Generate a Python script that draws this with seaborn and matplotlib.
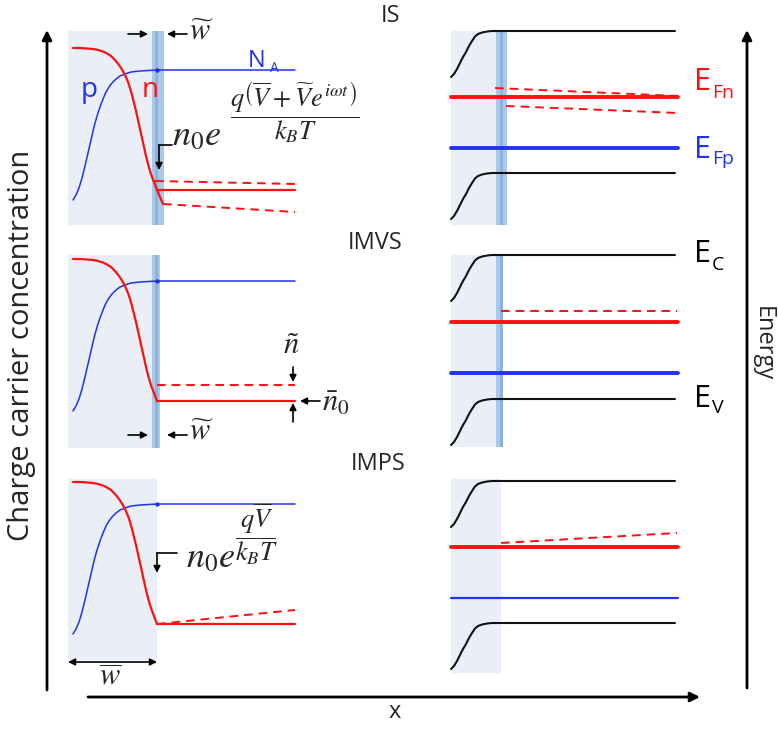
import matplotlib
matplotlib.use("Agg")
import matplotlib.pyplot as plt
import seaborn as sns

sns.set_style("white")
plt.rcParams['font.family'] = ['Open Sans', 'DejaVu Sans']
plt.rcParams['mathtext.fontset'] = 'stix'

# panel titles (centre x, centre y in px)
titles = ['IS', 'IMVS', 'IMPS']
title_xy = [(391, 16), (375, 243), (378, 464)]

# left column: carrier profiles (px, top panel)
n_curve_x = [73, 80, 87, 93, 98, 103, 107, 111, 115, 119, 122, 125, 128, 130,
             132, 134, 136, 138, 140, 142, 144, 146, 148, 150, 152, 154, 157]
n_curve_y = [48, 48, 48.5, 49, 50, 51.5, 53.5, 56, 60, 65, 69.5, 75, 82, 88,
             95, 103, 111, 120, 129, 138, 147, 156, 164, 171, 177, 182, 190]
n_tail_x = [157, 163]          # IS only: curve swings further down
n_tail_y = [190, 204]
p_curve_x = [73, 76, 79, 82, 85, 88, 91, 94, 97, 100, 103, 106, 109, 112,
             116, 120, 125, 131, 140, 157, 295]
p_curve_y = [200, 195, 188, 178, 166, 153, 140, 127, 116, 107, 99, 92, 87, 83,
             79, 76, 74, 72, 71, 70, 70]
left_shift = [0, 211, 434]     # vertical offset of each left panel
n_solid_x = [157, 295]
n_solid_y = [190, 190]
# dashed n perturbations per panel: (x0, y0, x1, y1) in panel units
n_dashed = [
    [(155, 181, 295, 184), (163, 204, 295, 212)],
    [(157, 174, 295, 174)],
    [(157, 190, 295, 176)],
]
left_shade_y = [(31, 225), (255, 448), (479, 660)]
left_shade_x1 = [152, 152, 157]
left_strip = [(152, 164), (152, 160), None]

# right column: band diagram
band_x = [451, 454, 457, 460, 463, 466, 469, 472, 475, 478, 482, 487, 492, 675]
band_dy = [46, 43, 38, 32, 26, 21, 15, 10, 5.5, 3, 1.5, 0.5, 0, 0]
cb_level = [31, 255, 481]
vb_level = [173, 399, 623]
efn_level = [97, 322, 547]
efp_level = [148, 373, 598]
efp_width = [2.8, 2.8, 1.6]
level_x = [451, 678]
efn_dashed = [
    [(495, 88, 678, 96), (506, 106, 678, 113)],
    [(501, 311, 677, 311)],
    [(501, 543, 677, 533)],
]
right_shade_y = [(31, 225), (255, 447), (479, 673)]
right_shade_x1 = [496, 496, 501]
right_strip = [(496, 507), (496, 503), None]

RED = '#FF1010'
BLUE = '#2233EE'
SHADE = '#E9EEF7'
STRIP = '#A9C8EA'

fig = plt.figure(figsize=(7.79, 7.30), dpi=100)
ax = fig.add_axes([0, 0, 1, 1])


def line(xs, ys, **kw):
    sns.lineplot(x=xs, y=ys, sort=False, estimator=None, ax=ax, **kw)


def arrow(tail, tip, lw=1.2, ms=10):
    ax.annotate('', xy=tip, xytext=tail,
                arrowprops=dict(arrowstyle='-|>', color='k', lw=lw,
                                mutation_scale=ms, shrinkA=0, shrinkB=0))


dash = (0, (4.5, 3))

# ---- left column
for i, dy in enumerate(left_shift):
    y0, y1 = left_shade_y[i]
    ax.fill_betweenx([y0, y1], 68, left_shade_x1[i], color=SHADE, lw=0)
    if left_strip[i]:
        s0, s1 = left_strip[i]
        ax.fill_betweenx([y0, y1], s0, s1, color=STRIP, lw=0)
        ax.fill_betweenx([y0, y1], s0 + 3, s0 + 6, color='#8DB3DC', lw=0)
    line(p_curve_x, [v + dy for v in p_curve_y], color=BLUE, lw=1.1)
    sns.scatterplot(x=[157], y=[70 + dy], color=BLUE, s=10, ax=ax, lw=0)
    nx, ny = list(n_curve_x), [v + dy for v in n_curve_y]
    if i == 0:
        nx += n_tail_x[1:]
        ny += [v + dy for v in n_tail_y[1:]]
    line(nx, ny, color=RED, lw=1.6)
    line(n_solid_x, [v + dy for v in n_solid_y], color=RED, lw=1.6)
    for (xa, ya, xb, yb) in n_dashed[i]:
        line([xa, xb], [ya + dy, yb + dy], color=RED, lw=1.4, linestyle=dash)

# ---- right column
for i in range(3):
    y0, y1 = right_shade_y[i]
    ax.fill_betweenx([y0, y1], 451, right_shade_x1[i], color=SHADE, lw=0)
    if right_strip[i]:
        s0, s1 = right_strip[i]
        ax.fill_betweenx([y0, y1], s0, s1, color=STRIP, lw=0)
        ax.fill_betweenx([y0, y1], s0 + 4, s0 + 7, color='#8DB3DC', lw=0)
    line(band_x, [cb_level[i] + d for d in band_dy], color='#111111', lw=1.5)
    line(band_x, [vb_level[i] + d for d in band_dy], color='#111111', lw=1.5)
    line(level_x, [efn_level[i]] * 2, color=RED, lw=2.8)
    line(level_x, [efp_level[i]] * 2, color=BLUE, lw=efp_width[i])
    for (xa, ya, xb, yb) in efn_dashed[i]:
        line([xa, xb], [ya, yb], color=RED, lw=1.4, linestyle=dash)

# ---- big axes
arrow((47, 690), (47, 30), lw=2, ms=14)
arrow((88, 697), (700, 697), lw=2, ms=14)
arrow((747, 688), (747, 30), lw=2, ms=14)
ax.text(22, 345, 'Charge carrier concentration', rotation=90, fontsize=21,
        ha='center', va='center')
ax.text(763, 344, 'Energy', rotation=-90, fontsize=17, ha='center', va='center')
ax.text(395, 712, 'x', fontsize=17, ha='center', va='center')

for t, (tx, ty) in zip(titles, title_xy):
    ax.text(tx, ty, t, fontsize=17, ha='center', va='center')

# ---- left annotations
ax.text(89, 97, 'p', color=BLUE, fontsize=20, ha='center', va='baseline')
ax.text(150, 97, 'n', color=RED, fontsize=20, ha='center', va='baseline')
ax.text(257, 67, 'N', color=BLUE, fontsize=17, ha='center', va='baseline')
ax.text(274, 72, 'A', color=BLUE, fontsize=10, ha='center', va='baseline')

for wy in (34, 435):
    arrow((128, wy), (148, wy))
    arrow((187, wy), (167, wy))
    ax.text(201, wy - 3, r'$\widetilde{w}$', fontsize=22, ha='center', va='center')

ax.text(197, 136, r'$n_0e$', fontsize=26, ha='center', va='center')
ax.text(295, 112, r'$\dfrac{q\left(\overline{V}+\widetilde{V}e^{i\omega t}\right)}{k_BT}$',
        fontsize=19, ha='center', va='center')
ax.plot([172, 159], [145, 145], color='k', lw=1.2)
arrow((159, 145), (159, 170))

ax.text(211, 558, r'$n_0e$', fontsize=26, ha='center', va='center')
ax.text(256, 534, r'$\dfrac{q\overline{V}}{k_BT}$', fontsize=19, ha='center', va='center')
ax.plot([177, 157], [553, 553], color='k', lw=1.2)
arrow((157, 553), (157, 573))

ax.text(291, 346, r'$\tilde{n}$', fontsize=22, ha='center', va='center')
arrow((293, 367), (293, 382))
arrow((293, 422), (293, 403))
arrow((320, 401), (300, 401))
ax.text(336, 403, r'$\bar{n}_0$', fontsize=22, ha='center', va='center')

ax.annotate('', xy=(68, 662), xytext=(157, 662),
            arrowprops=dict(arrowstyle='<|-|>', color='k', lw=1.2,
                            mutation_scale=10, shrinkA=0, shrinkB=0))
ax.text(110, 677, r'$\overline{w}$', fontsize=22, ha='center', va='center')

# ---- right labels
for lbl, sub, col, yb, ys in [('E', 'Fn', RED, 90, 98), ('E', 'Fp', BLUE, 158, 164),
                              ('E', 'C', 'k', 262, 270), ('E', 'V', 'k', 407, 413)]:
    ax.text(694, yb, lbl, color=col, fontsize=22, ha='left', va='baseline')
    ax.text(712, ys, sub, color=col, fontsize=14, ha='left', va='baseline')

ax.set_xlim(0, 779)
ax.set_ylim(730, 0)
ax.axis('off')
fig.savefig('out.png', dpi=100)
